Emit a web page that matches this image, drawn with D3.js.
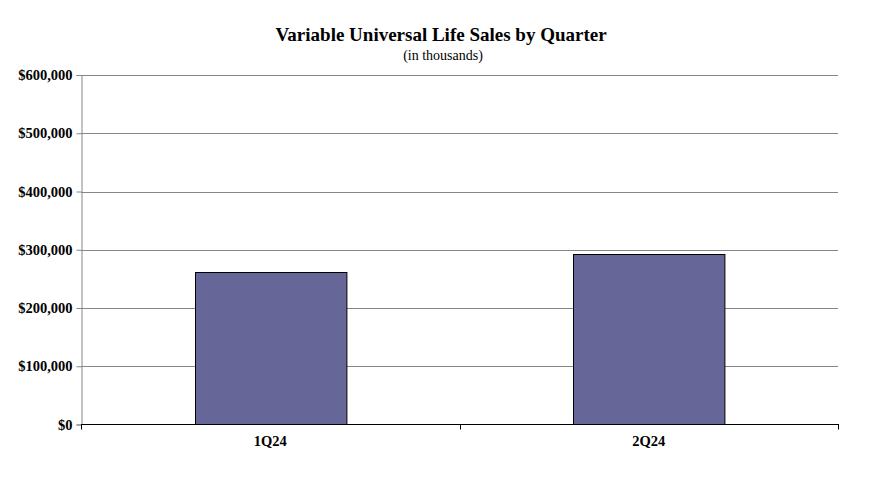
<!DOCTYPE html>
<html><head><meta charset="utf-8">
<script src="https://cdn.jsdelivr.net/npm/d3@7"></script>
<style>body{margin:0;background:#fff}svg{display:block}</style>
</head><body>
<svg id="c" width="877" height="484"></svg>
<script>
const categories = ["1Q24", "2Q24"];
const sales = [261000, 292500];
const yTicks = [0, 100000, 200000, 300000, 400000, 500000, 600000];
const title = "Variable Universal Life Sales by Quarter";
const subtitle = "(in thousands)";

const svg = d3.select("#c");
const m = {l: 81, r: 838, t: 75, b: 424.5};
const x = d3.scaleBand().domain(categories).range([m.l, m.r]).paddingInner(0.6).paddingOuter(0.3);
const y = d3.scaleLinear().domain([0, 600000]).range([m.b, m.t]);
const font = "'Liberation Serif','DejaVu Serif','Times New Roman',serif";

svg.append("text").attr("x", 441).attr("y", 41).attr("text-anchor", "middle")
  .attr("font-family", font).attr("font-weight", "bold").attr("font-size", 19).text(title);
svg.append("text").attr("x", 443).attr("y", 60).attr("text-anchor", "middle")
  .attr("font-family", font).attr("font-size", 14).text(subtitle);

// gridlines
svg.append("g").selectAll("line").data(yTicks.filter(d => d > 0)).join("line")
  .attr("x1", m.l).attr("x2", m.r).attr("y1", d => Math.round(y(d)) + 0.5).attr("y2", d => Math.round(y(d)) + 0.5)
  .attr("stroke", "#868686").attr("stroke-width", 1);

// y axis
const yAxis = svg.append("g").attr("transform", `translate(${m.l + 0.5},0)`)
  .call(d3.axisLeft(y).tickValues(yTicks).tickSize(5).tickPadding(4)
    .tickFormat(d => "$" + d3.format(",")(d)));
yAxis.select(".domain").attr("stroke", "#868686");
yAxis.selectAll(".tick line").attr("stroke", "#868686");
yAxis.selectAll("text").attr("font-family", font).attr("font-weight", "bold").attr("font-size", 14.5).attr("fill", "#000");

// bars
svg.append("g").selectAll("rect").data(sales).join("rect")
  .attr("x", (d, i) => Math.round(x(categories[i])) + 0.5)
  .attr("y", d => Math.round(y(d)) + 0.5)
  .attr("width", x.bandwidth())
  .attr("height", d => y(0) - Math.round(y(d)) - 0.5)
  .attr("fill", "#666699").attr("stroke", "#000").attr("stroke-width", 1);

// x axis
const xb = d3.scaleLinear().domain([0, categories.length]).range([m.l, m.r]);
const gx = svg.append("g").attr("transform", `translate(0,${m.b})`);
gx.append("line").attr("x1", m.l).attr("x2", m.r + 1).attr("y1", 0).attr("y2", 0).attr("stroke", "#000");
gx.selectAll("line.tk").data(d3.range(categories.length + 1)).join("line").attr("class", "tk")
  .attr("x1", d => Math.round(xb(d)) + 0.5).attr("x2", d => Math.round(xb(d)) + 0.5)
  .attr("y1", 0).attr("y2", 5).attr("stroke", "#000");
gx.selectAll("text").data(categories).join("text")
  .attr("x", d => x(d) + x.bandwidth() / 2).attr("y", 21).attr("text-anchor", "middle")
  .attr("font-family", font).attr("font-weight", "bold").attr("font-size", 14.5).text(d => d);
</script>
</body></html>
